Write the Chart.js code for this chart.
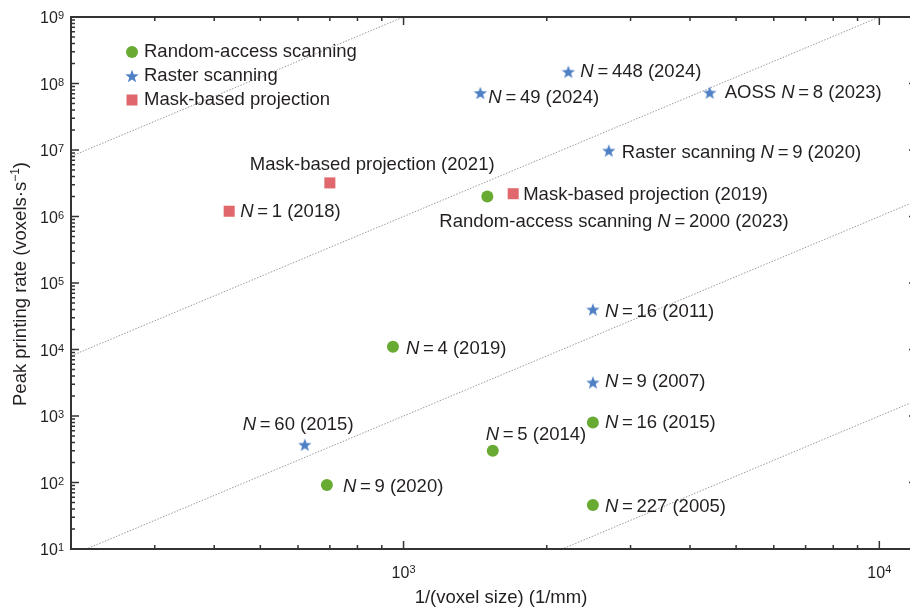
<!DOCTYPE html>
<html>
<head>
<meta charset="utf-8">
<script src="https://cdn.jsdelivr.net/npm/chart.js@4.4.1/dist/chart.umd.min.js"></script>
<style>
  html, body { margin: 0; padding: 0; overflow: hidden; background: #fff; }
</style>
</head>
<body>
<canvas id="rateChart" width="920" height="609"></canvas>
<script>
// Données
const randomX = [1500, 950, 690, 1540, 2500, 2500];
const randomY = [2.0e6, 1.1e4, 92, 300, 800, 46];
const randomText = ['Random-access scanning N = 2000 (2023)', 'N = 4 (2019)', 'N = 9 (2020)',
                    'N = 5 (2014)', 'N = 16 (2015)', 'N = 227 (2005)'];

const rasterX = [2220, 1450, 4400, 2700, 2500, 2500, 620];
const rasterY = [1.5e8, 7.2e7, 7.3e7, 9.8e6, 4.0e4, 3.2e3, 370];
const rasterText = ['N = 448 (2024)', 'N = 49 (2024)', 'AOSS N = 8 (2023)', 'Raster scanning N = 9 (2020)',
                    'N = 16 (2011)', 'N = 9 (2007)', 'N = 60 (2015)'];

const maskX = [430, 700, 1700];
const maskY = [1.2e6, 3.2e6, 2.2e6];
const maskText = ['N = 1 (2018)', 'Mask-based projection (2021)', 'Mask-based projection (2019)'];

const seriesNames = ['Random-access scanning', 'Raster scanning', 'Mask-based projection'];

// droites de débit volumique constant (y = k·x³), extrémités en x = 100 et x = 100000
const guideX = [100, 100000];
const guideY = [[1e6, 1e15], [1e3, 1e12], [1, 1e9], [1e-3, 1e6]];

const xTickValues = [1e3, 1e4];
const xTickExp = ['3', '4'];
const yTickValues = [1e1, 1e2, 1e3, 1e4, 1e5, 1e6, 1e7, 1e8, 1e9];
const yTickExp = ['1', '2', '3', '4', '5', '6', '7', '8', '9'];

// décalages des étiquettes par rapport au point [dx, dy] (bord gauche du texte)
const randomOffsets = [[-48, 25], [13, 2], [16, 2], [-7, -16], [12, 0], [12, 2]];
const rasterOffsets = [[12, 0], [8, 5], [15, 0], [13, 2], [12, 2], [12, -1], [-62, -20]];
const maskOffsets = [[11, 1], [-80, -18], [10, 1]];

const GREEN = '#68aa32';
const BLUE = '#4f80c5';
const RED = '#e0686c';
const TEXT = '#231f20';
const FAMILY = '"Liberation Sans", Arial, sans-serif';

function pts(xs, ys) {
    return xs.map((x, i) => ({ x: x, y: ys[i] }));
}

// étoile pleine pour le balayage raster
function makeStar(color, R, r) {
    const c = document.createElement('canvas');
    const s = Math.ceil(R * 2 + 2);
    c.width = s; c.height = s;
    const g = c.getContext('2d');
    g.translate(s / 2, s / 2 + R * 0.1);
    g.beginPath();
    for (let i = 0; i < 10; i++) {
        const a = -Math.PI / 2 + i * Math.PI / 5;
        const rr = i % 2 === 0 ? R : r;
        g.lineTo(Math.cos(a) * rr, Math.sin(a) * rr);
    }
    g.closePath();
    g.fillStyle = color;
    g.fill();
    return c;
}
const starImg = makeStar(BLUE, 7, 2.9);

function drawRich(ctx, parts, x, y, align) {
    let w = 0;
    parts.forEach(p => { ctx.font = p.font; p.w = ctx.measureText(p.text).width; w += p.w; });
    let cx = align === 'center' ? x - w / 2 : (align === 'right' ? x - w : x);
    ctx.textAlign = 'left';
    parts.forEach(p => {
        ctx.font = p.font;
        ctx.fillText(p.text, cx, y + (p.dy || 0));
        cx += p.w;
    });
}

function labelParts(str, size) {
    const parts = [];
    str.split('N').forEach((seg, i) => {
        if (i > 0) parts.push({ text: 'N', font: 'italic ' + size + 'px ' + FAMILY });
        if (seg) parts.push({ text: seg.replace(/ = /g, '\u2009=\u2009'), font: size + 'px ' + FAMILY });
    });
    return parts;
}

const decorPlugin = {
    id: 'decor',
    afterDatasetsDraw(chart) {
        const ctx = chart.ctx;
        const a = chart.chartArea;
        const xs = chart.scales.x;
        const ys = chart.scales.y;
        ctx.save();

        // cadre
        ctx.strokeStyle = '#333';
        ctx.lineWidth = 2;
        ctx.strokeRect(a.left, a.top, a.right - a.left, a.bottom - a.top);

        // graduations
        ctx.lineWidth = 1.5;
        ctx.beginPath();
        [100, 1000, 10000].forEach(dec => {
            for (let m = 2; m <= 10; m++) {
                const v = m * dec;
                if (v <= xs.min || v >= xs.max) continue;
                const len = m === 10 ? 8 : 4;
                const px = xs.getPixelForValue(v);
                ctx.moveTo(px, a.bottom); ctx.lineTo(px, a.bottom - len);
                ctx.moveTo(px, a.top); ctx.lineTo(px, a.top + len);
            }
        });
        for (let dec = 1; dec <= 1e8; dec *= 10) {
            for (let m = 2; m <= 10; m++) {
                const v = m * dec;
                if (v <= ys.min || v >= ys.max) continue;
                const len = m === 10 ? 8 : 4;
                const py = ys.getPixelForValue(v);
                ctx.moveTo(a.left, py); ctx.lineTo(a.left + len, py);
                ctx.moveTo(a.right, py); ctx.lineTo(a.right - len, py);
            }
        }
        ctx.stroke();

        // étiquettes des graduations
        ctx.fillStyle = TEXT;
        ctx.textBaseline = 'alphabetic';
        const base = '16px ' + FAMILY;
        const sup = '11px ' + FAMILY;
        yTickValues.forEach((v, i) => {
            const py = ys.getPixelForValue(v);
            drawRich(ctx, [{ text: '10', font: base, dy: 6 }, { text: yTickExp[i], font: sup, dy: 2 }], a.left - 7, py, 'right');
        });
        xTickValues.forEach((v, i) => {
            const px = xs.getPixelForValue(v);
            drawRich(ctx, [{ text: '10', font: base }, { text: xTickExp[i], font: sup, dy: -5 }], px, 578, 'center');
        });

        // titres des axes
        const tf = '18.5px ' + FAMILY;
        drawRich(ctx, [{ text: '1/(voxel size) (1/mm)', font: tf }], 501, 603, 'center');
        ctx.save();
        ctx.translate(26, 284);
        ctx.rotate(-Math.PI / 2);
        drawRich(ctx, [
            { text: 'Peak printing rate (voxels\u00b7s', font: tf },
            { text: '\u22121', font: '12px ' + FAMILY, dy: -7 },
            { text: ')', font: tf }
        ], 0, 0, 'center');
        ctx.restore();

        // étiquettes des points
        ctx.textBaseline = 'middle';
        const groups = [[0, randomText, randomOffsets], [1, rasterText, rasterOffsets], [2, maskText, maskOffsets]];
        groups.forEach(([di, texts, offs]) => {
            const meta = chart.getDatasetMeta(di);
            meta.data.forEach((el, i) => {
                drawRich(ctx, labelParts(texts[i], 18.5), el.x + offs[i][0], el.y + offs[i][1], 'left');
            });
        });

        // légende
        const lx = 132, rows = [52, 76, 100];
        ctx.fillStyle = GREEN;
        ctx.beginPath(); ctx.arc(lx, rows[0], 6, 0, Math.PI * 2); ctx.fill();
        ctx.drawImage(starImg, lx - starImg.width / 2, rows[1] - starImg.height / 2);
        ctx.fillStyle = RED;
        ctx.fillRect(lx - 5.5, rows[2] - 5.5, 11, 11);
        ctx.fillStyle = TEXT;
        seriesNames.forEach((n, i) => {
            ctx.font = '18.5px ' + FAMILY;
            ctx.fillText(n, 144, rows[i]);
        });

        ctx.restore();
    }
};

const guideSets = guideY.map(ys => ({
    data: pts(guideX, ys),
    showLine: true,
    borderColor: '#9a9a9a',
    borderWidth: 1,
    borderDash: [1.5, 1.5],
    pointRadius: 0,
    fill: false
}));

new Chart(document.getElementById('rateChart'), {
    type: 'scatter',
    data: {
        datasets: [
            { label: seriesNames[0], data: pts(randomX, randomY), pointStyle: 'circle', pointRadius: 6,
              backgroundColor: GREEN, borderWidth: 0 },
            { label: seriesNames[1], data: pts(rasterX, rasterY), pointStyle: starImg, pointRadius: 7,
              backgroundColor: BLUE, borderWidth: 0 },
            { label: seriesNames[2], data: pts(maskX, maskY), pointStyle: 'rect', pointRadius: 7.8,
              backgroundColor: RED, borderWidth: 0 }
        ].concat(guideSets)
    },
    options: {
        responsive: false,
        animation: false,
        layout: { autoPadding: false, padding: { left: 71, top: 17, right: 3, bottom: 60 } },
        plugins: { legend: { display: false }, tooltip: { enabled: false } },
        scales: {
            x: { type: 'logarithmic', min: 200, max: 12000, display: false },
            y: { type: 'logarithmic', min: 10, max: 1e9, display: false }
        }
    },
    plugins: [decorPlugin]
});
</script>
</body>
</html>
